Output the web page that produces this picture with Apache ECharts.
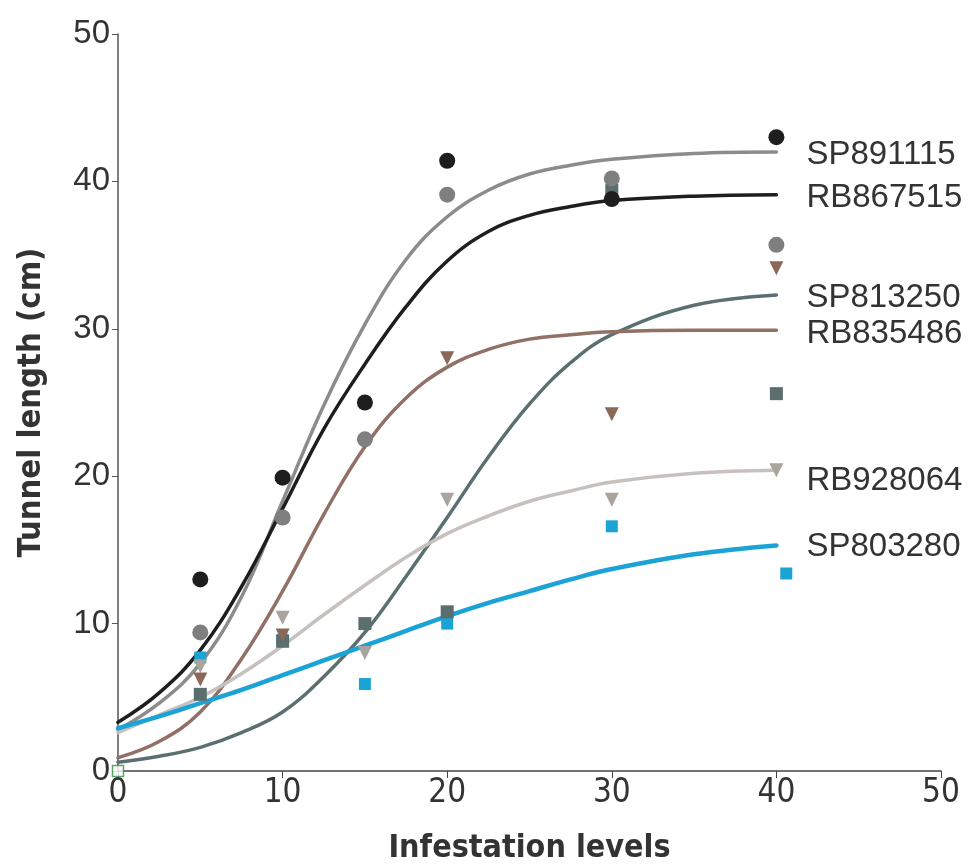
<!DOCTYPE html>
<html>
<head>
<meta charset="utf-8">
<script src="https://cdn.jsdelivr.net/npm/echarts@6/dist/echarts.min.js"></script>
<style>
  html, body { margin: 0; padding: 0; background: #fff; }
  #chart { width: 973px; height: 868px; }
</style>
</head>
<body>
<div id="chart"></div>
<script>
// fitted curves
const curveX = [0, 2.5, 5, 7.5, 10, 12.5, 15, 17.5, 20, 22.5, 25, 27.5, 30, 35, 40];
const fitSP891115 = [2.8, 4.6, 7.3, 11.8, 18.3, 24.8, 30.3, 34.7, 37.6, 39.4, 40.5, 41.1, 41.5, 41.9, 42.0];
const fitRB867515 = [3.3, 5.3, 8.2, 12.5, 17.8, 23.2, 27.6, 31.5, 34.6, 36.6, 37.7, 38.3, 38.7, 39.0, 39.1];
const fitSP813250 = [0.6, 1.0, 1.6, 2.6, 4.0, 6.4, 9.4, 13.2, 17.2, 21.3, 24.9, 27.7, 29.6, 31.6, 32.3];
const fitRB835486 = [0.9, 2.0, 4.0, 7.6, 12.2, 17.4, 22.0, 25.3, 27.4, 28.6, 29.3, 29.6, 29.8, 29.9, 29.9];
const fitRB928064 = [2.6, 3.8, 5.0, 6.6, 8.5, 10.6, 12.6, 14.5, 16.1, 17.3, 18.3, 19.0, 19.6, 20.2, 20.4];
const fitSP803280 = [2.9, 3.7, 4.6, 5.5, 6.5, 7.5, 8.5, 9.5, 10.5, 11.4, 12.2, 13.0, 13.7, 14.7, 15.3];

// observed means
const pointX = [5, 10, 15, 20, 30, 40];
const blueX = [5, 10, 15, 20, 30, 40.6];
const obsSP891115 = [9.4, 17.2, 22.5, 39.1, 40.2, 35.7];
const obsRB867515 = [13.0, 19.9, 25.0, 41.4, 38.8, 43.0];
const obsSP813250 = [5.2, 8.8, 10.0, 10.8, 39.4, 25.6];
const obsRB835486 = [6.2, 9.2, 22.3, 28.0, 24.2, 34.1];
const obsRB928064 = [7.1, 10.4, 8.0, 18.4, 18.4, 20.4];
const obsSP803280 = [7.7, 8.9, 5.9, 10.0, 16.6, 13.4];

const xTicks = [0, 10, 20, 30, 40, 50];
const yTicks = [0, 10, 20, 30, 40, 50];

const pairs = (xs, ys) => xs.map((x, i) => [x, ys[i]]);

const textFont = "'Liberation Sans', Arial, sans-serif";
const narrowFont = "'DejaVu Sans Condensed', 'Liberation Sans Narrow', 'Liberation Sans', sans-serif";

function fitLine(name, data, color, width, labelDy) {
  return {
    name: name,
    type: 'line',
    smooth: 0.4,
    showSymbol: false,
    silent: true,
    z: 2,
    data: pairs(curveX, data),
    lineStyle: { color: color, width: width, cap: 'round' },
    endLabel: {
      show: true,
      formatter: name,
      distance: 30,
      offset: [0, labelDy],
      color: '#333',
      fontSize: 33,
      fontFamily: textFont
    }
  };
}

function obsPoints(name, xs, data, color, symbol, size, rotate) {
  return {
    name: name + ' obs',
    type: 'scatter',
    symbol: symbol,
    symbolSize: size,
    symbolRotate: rotate || 0,
    z: 3,
    data: pairs(xs, data),
    itemStyle: { color: color, opacity: 1 }
  };
}

const chart = echarts.init(document.getElementById('chart'));
chart.setOption({
  animation: false,
  backgroundColor: '#fff',
  grid: { left: 118, right: 32, top: 34, bottom: 97, containLabel: false, outerBoundsMode: 'none' },
  xAxis: {
    type: 'value',
    min: xTicks[0],
    max: xTicks[xTicks.length - 1],
    interval: 10,
    name: 'Infestation levels',
    nameLocation: 'middle',
    nameGap: 62,
    nameTextStyle: { fontSize: 32, fontFamily: narrowFont, color: '#333', fontWeight: 'bold' },
    splitLine: { show: false },
    axisLine: { lineStyle: { color: '#444', width: 1.5 } },
    axisTick: { length: 7, lineStyle: { color: '#444' } },
    axisLabel: { fontSize: 33, fontFamily: narrowFont, color: '#333', margin: 6 }
  },
  yAxis: {
    type: 'value',
    min: yTicks[0],
    max: yTicks[yTicks.length - 1],
    interval: 10,
    name: 'Tunnel length (cm)',
    nameLocation: 'middle',
    nameGap: 70,
    nameRotate: 90,
    nameTextStyle: { fontSize: 32.5, fontFamily: narrowFont, color: '#333', fontWeight: 'bold' },
    splitLine: { show: false },
    axisLine: { show: true, lineStyle: { color: '#555', width: 1.5 } },
    axisTick: { show: true, length: 6, lineStyle: { color: '#555' } },
    axisLabel: { fontSize: 33, fontFamily: textFont, color: '#333', margin: 8 }
  },
  series: [
    fitLine('SP891115', fitSP891115, '#8c8c8c', 3.5, 3),
    fitLine('RB867515', fitRB867515, '#1e1e1e', 3.5, 3),
    fitLine('SP813250', fitSP813250, '#5a7070', 3.5, 3),
    fitLine('RB835486', fitRB835486, '#917065', 3.5, 4),
    fitLine('RB928064', fitRB928064, '#c6c1be', 3.5, 11),
    fitLine('SP803280', fitSP803280, '#1ba3d6', 4.5, 1),
    obsPoints('SP803280', blueX, obsSP803280, '#1ba3d6', 'rect', 12),
    obsPoints('SP813250', pointX, obsSP813250, '#5a6e6e', 'rect', 13),
    obsPoints('RB928064', pointX, obsRB928064, '#aaa49f', 'triangle', 14, 180),
    obsPoints('RB835486', pointX, obsRB835486, '#8b6858', 'triangle', 14, 180),
    obsPoints('SP891115', pointX, obsSP891115, '#7f7f7f', 'circle', 16),
    obsPoints('RB867515', pointX, obsRB867515, '#1e1e1e', 'circle', 16),
    {
      name: 'origin',
      type: 'scatter',
      symbol: 'rect',
      symbolSize: 11,
      z: 4,
      data: [[0, 0]],
      itemStyle: { color: '#fff', borderColor: '#3a8f4a', borderWidth: 1.5 }
    }
  ]
});
</script>
</body>
</html>
